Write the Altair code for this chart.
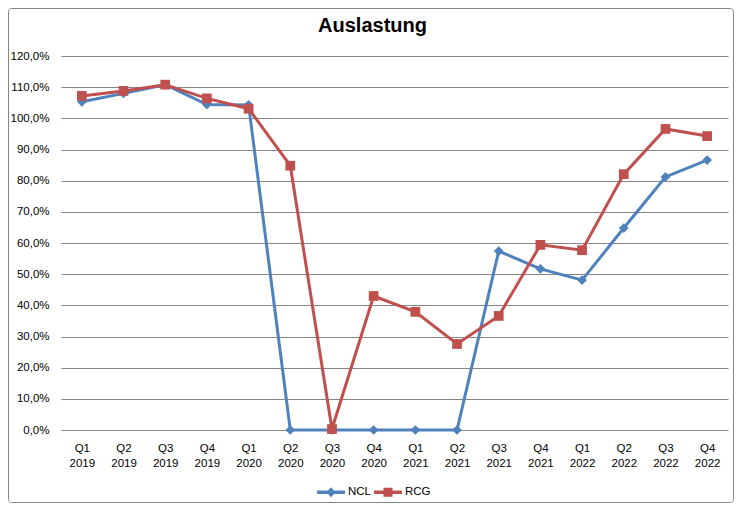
import altair as alt
import pandas as pd

quarters = ["Q1 2019", "Q2 2019", "Q3 2019", "Q4 2019",
            "Q1 2020", "Q2 2020", "Q3 2020", "Q4 2020",
            "Q1 2021", "Q2 2021", "Q3 2021", "Q4 2021",
            "Q1 2022", "Q2 2022", "Q3 2022", "Q4 2022"]
ncl = [105.3, 108.0, 110.8, 104.4, 104.3, 0.0, 0.0, 0.0,
       0.0, 0.0, 57.4, 51.7, 48.1, 64.8, 81.2, 86.6]
rcg = [107.2, 108.8, 110.8, 106.4, 103.1, 84.8, 0.3, 43.0,
       37.9, 27.6, 36.6, 59.4, 57.7, 82.1, 96.6, 94.3]
series = ["NCL", "RCG"]
colors = ["#4F81BD", "#C0504D"]
y_ticks = list(range(0, 121, 10))

rows = []
for i, q in enumerate(quarters):
    rows.append({"quarter": q, "series": "NCL", "value": ncl[i]})
    rows.append({"quarter": q, "series": "RCG", "value": rcg[i]})
df = pd.DataFrame(rows)

FONT = "Liberation Sans"

x_enc = alt.X("quarter:N", sort=quarters,
              scale=alt.Scale(type="point", padding=0.5),
              axis=alt.Axis(labelExpr="split(datum.label, ' ')", labelAngle=0,
                            domain=False, ticks=False, tickSize=0, labelPadding=12,
                            labelLineHeight=15, title=None, grid=False,
                            labelOverlap=False, labelFont=FONT, labelFontSize=11.5,
                            labelColor="#000000"))
y_enc = alt.Y("value:Q", scale=alt.Scale(domain=[0, 120], nice=False),
              axis=alt.Axis(values=y_ticks,
                            labelExpr="replace(format(datum.value, '.1f'), '.', ',') + '%'",
                            grid=True, gridColor="#868686", gridWidth=1,
                            domain=False, ticks=False, tickSize=0, labelPadding=12,
                            title=None, labelFont=FONT, labelFontSize=11.5,
                            labelColor="#000000"))

legend = alt.Legend(orient="none", legendX=255, legendY=421, direction="horizontal",
                    title=None, symbolSize=900, labelFont=FONT, labelFontSize=11.5,
                    labelColor="#000000", labelOffset=2, columnPadding=1,
                    symbolStrokeWidth=0)

color_enc = alt.Color("series:N", scale=alt.Scale(domain=series, range=colors), legend=legend)

ncl_path = "M-0.93,-0.11H0.93V0.11H-0.93Z M0,-0.33L0.3,0L0,0.33L-0.3,0Z"
rcg_path = "M-0.93,-0.11H0.93V0.11H-0.93Z M-0.3,-0.3H0.3V0.3H-0.3Z"

base = alt.Chart(df).encode(x=x_enc, y=y_enc, color=color_enc)

line_ncl = base.mark_line(strokeWidth=3).transform_filter("datum.series == 'NCL'")
pts_ncl = base.mark_point(shape="diamond", filled=True, size=95, opacity=1).transform_filter("datum.series == 'NCL'")
line_rcg = base.mark_line(strokeWidth=3).transform_filter("datum.series == 'RCG'")
pts_rcg = base.mark_point(shape="square", filled=True, size=95, opacity=1).transform_filter("datum.series == 'RCG'")

legend_layer = alt.Chart(df).mark_point(filled=True, opacity=1).encode(
    x=x_enc, y=y_enc,
    color=color_enc,
    shape=alt.Shape("series:N", scale=alt.Scale(domain=series, range=[ncl_path, rcg_path]), legend=legend),
).transform_filter("datum.value < -1")

border = alt.Chart(pd.DataFrame({"a": [0]})).mark_rect(
    fillOpacity=0, stroke="#868686", strokeWidth=1, cornerRadius=3
).encode(x=alt.value(-52.5), x2=alt.value(672.5), y=alt.value(-47.5), y2=alt.value(446.5))

chart = alt.layer(legend_layer, border, line_ncl, pts_ncl, line_rcg, pts_rcg).properties(
    width=667, height=374,
    padding={"left": 53, "top": 48, "right": 6, "bottom": 73},
    autosize=alt.AutoSizeParams(type="none"),
    title=alt.TitleParams("Auslastung", font=FONT, fontSize=20, fontWeight="bold",
                          anchor="middle", dx=-22, offset=0, dy=28, color="#000000"),
    background="#ffffff",
).configure_view(strokeWidth=0)

chart.save("out.html", embed_options={"renderer": "svg", "actions": False})
